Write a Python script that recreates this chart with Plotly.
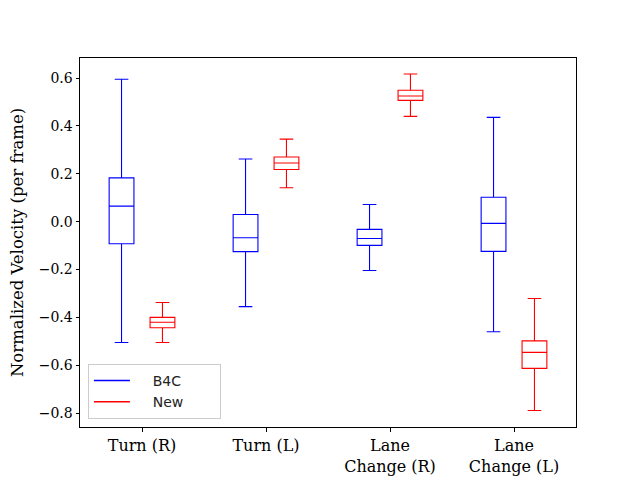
import plotly.graph_objects as go

# maneuver categories and box stats
categories = ["Turn (R)", "Turn (L)", "Lane<br>Change (R)", "Lane<br>Change (L)"]

b4c_low = [-0.505, -0.355, -0.204, -0.460]
b4c_q1 = [-0.092, -0.125, -0.099, -0.124]
b4c_med = [0.065, -0.067, -0.070, -0.007]
b4c_q3 = [0.183, 0.030, -0.032, 0.102]
b4c_high = [0.595, 0.262, 0.072, 0.436]

new_low = [-0.505, 0.142, 0.440, -0.789]
new_q1 = [-0.443, 0.218, 0.507, -0.613]
new_med = [-0.420, 0.245, 0.525, -0.546]
new_q3 = [-0.400, 0.270, 0.549, -0.498]
new_high = [-0.338, 0.345, 0.617, -0.321]

pos = [i + 1 for i in range(len(categories))]
shift = 0.165

fig = go.Figure()

# B4C boxes
fig.add_trace(go.Box(
    x=[p - shift for p in pos], q1=b4c_q1, median=b4c_med, q3=b4c_q3,
    lowerfence=b4c_low, upperfence=b4c_high,
    width=0.2, whiskerwidth=0.55, line=dict(color="blue", width=1.1),
    fillcolor="rgba(0,0,0,0)", showlegend=False, hoverinfo="skip",
))

# New boxes
fig.add_trace(go.Box(
    x=[p + shift for p in pos], q1=new_q1, median=new_med, q3=new_q3,
    lowerfence=new_low, upperfence=new_high,
    width=0.2, whiskerwidth=0.55, line=dict(color="red", width=1.1),
    fillcolor="rgba(0,0,0,0)", showlegend=False, hoverinfo="skip",
))

# legend entries as plain lines (padded names to widen the frame)
lead = "\u00a0" * 4
pad = "\u00a0" * 7
fig.add_trace(go.Scatter(x=[None], y=[None], mode="lines", name=lead + "B4C" + pad,
                         line=dict(color="blue", width=1.5)))
fig.add_trace(go.Scatter(x=[None], y=[None], mode="lines", name=lead + "New" + pad,
                         line=dict(color="red", width=1.5)))

serif = "DejaVu Serif"
# page body adds 8px, so the figure is offset; keep it inside the window
fig.update_layout(
    width=624, height=472,
    margin=dict(l=72, r=56, t=50, b=53),
    plot_bgcolor="white", paper_bgcolor="white",
    font=dict(family=serif, size=14, color="black"),
    legend=dict(x=0.016, y=0.022, xanchor="left", yanchor="bottom",
                bgcolor="rgba(255,255,255,0.8)", bordercolor="#cccccc", borderwidth=1,
                font=dict(family="DejaVu Sans", size=14, color="#222222"),
                itemwidth=36, tracegroupgap=4),
)
fig.update_xaxes(
    range=[0.5, 4.5], tickmode="array", tickvals=pos, ticktext=categories,
    showline=True, mirror=True, linecolor="black", linewidth=1,
    ticks="outside", ticklen=3.5, tickcolor="black", showgrid=False, zeroline=False,
    tickfont=dict(family=serif, size=16), automargin=False,
)
fig.update_yaxes(
    range=[-0.858, 0.684], tick0=0, dtick=0.2, tickformat=".1f",
    showline=True, mirror=True, linecolor="black", linewidth=1,
    ticks="outside", ticklen=3.5, tickcolor="black", showgrid=False, zeroline=False,
    title=dict(text="Normalized Velocity (per frame)", font=dict(family=serif, size=16.5), standoff=20),
    tickfont=dict(family=serif, size=14), automargin=False,
)

fig.write_html("out.html")
